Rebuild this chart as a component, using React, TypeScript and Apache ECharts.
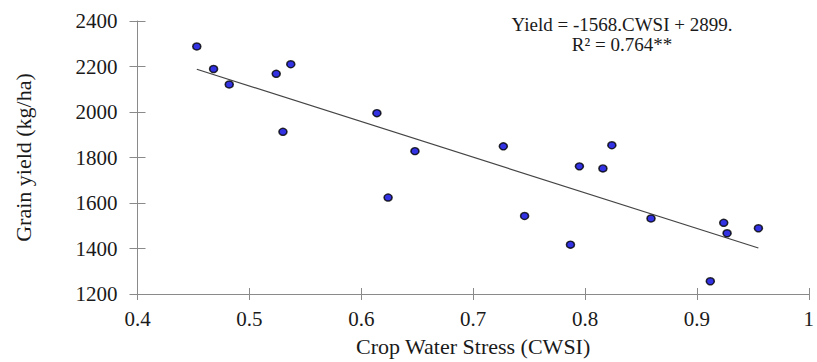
import React, { useEffect, useRef } from "react";
import * as echarts from "echarts";

const cwsi = [0.453, 0.468, 0.482, 0.524, 0.537, 0.530, 0.614, 0.624, 0.648, 0.727, 0.746, 0.787, 0.795, 0.816, 0.824, 0.859, 0.912, 0.924, 0.927, 0.955];
const grainYield = [2288, 2189, 2121, 2168, 2210, 1913, 1995, 1624, 1828, 1849, 1543, 1417, 1761, 1752, 1854, 1532, 1256, 1513, 1467, 1489];
const trendX = [0.453, 0.955];
const trendY = [2188, 1402];
const equationLines = ["Yield = -1568.CWSI + 2899.", "R\u00B2 = 0.764**"];
const xTitle = "Crop Water Stress (CWSI)";
const yTitle = "Grain yield (kg/ha)";

const FONT = "Liberation Serif";
const AXIS = "#8a8a8a";
const TEXT = "#1a1a1a";

export default function App() {
  const ref = useRef<HTMLDivElement>(null);
  useEffect(() => {
    if (!ref.current) return;
    const chart = echarts.init(ref.current, null, { renderer: "svg" });
    const xBase = { type: "value", min: 0.4, max: 1, interval: 0.1, splitLine: { show: false } };
    const yBase = { type: "value", min: 1200, max: 2400, interval: 200, splitLine: { show: false } };
    chart.setOption({
      animation: false,
      backgroundColor: "#ffffff",
      textStyle: { fontFamily: FONT },
      grid: { left: 137.5, right: 4.5, top: 21, bottom: 62.7, containLabel: false },
      xAxis: [
        {
          ...xBase,
          position: "bottom",
          name: xTitle,
          nameLocation: "middle",
          nameGap: 41,
          nameTextStyle: { fontFamily: FONT, fontSize: 22, color: TEXT },
          axisLine: { show: true, lineStyle: { color: AXIS, width: 1 } },
          axisTick: { show: true, inside: false, length: 6, lineStyle: { color: AXIS } },
          axisLabel: {
            fontFamily: FONT,
            fontSize: 21,
            color: TEXT,
            margin: 14,
            formatter: (v: number) => String(Number(v.toFixed(1))),
          },
        },
        {
          ...xBase,
          position: "bottom",
          axisLine: { show: false },
          axisTick: { show: true, inside: true, length: 6, lineStyle: { color: AXIS } },
          axisLabel: { show: false },
        },
      ],
      yAxis: [
        {
          ...yBase,
          position: "left",
          name: yTitle,
          nameLocation: "middle",
          nameGap: 103,
          nameTextStyle: { fontFamily: FONT, fontSize: 22, color: TEXT },
          axisLine: { show: true, lineStyle: { color: AXIS, width: 1 } },
          axisTick: { show: true, inside: false, length: 8, lineStyle: { color: AXIS } },
          axisLabel: {
            fontFamily: FONT,
            fontSize: 21,
            color: TEXT,
            margin: 20,
            formatter: (v: number) => String(Math.round(v)),
          },
        },
        {
          ...yBase,
          position: "left",
          axisLine: { show: false },
          axisTick: { show: true, inside: true, length: 8, lineStyle: { color: AXIS } },
          axisLabel: { show: false },
        },
      ],
      series: [
        {
          type: "line",
          xAxisIndex: 0,
          yAxisIndex: 0,
          data: trendX.map((x, i) => [x, trendY[i]]),
          showSymbol: false,
          symbol: "none",
          lineStyle: { color: "#444444", width: 1.2 },
          silent: true,
          z: 2,
        },
        {
          type: "scatter",
          xAxisIndex: 0,
          yAxisIndex: 0,
          data: cwsi.map((x, i) => [x, grainYield[i]]),
          symbol: "circle",
          symbolSize: [8, 7],
          itemStyle: { color: "#0000dd", borderColor: "#000000", borderWidth: 1.5 },
          z: 3,
        },
      ],
      graphic: equationLines.map((t, i) => ({
        type: "text",
        x: 622,
        y: 24 + i * 20,
        style: {
          text: t,
          fontFamily: FONT,
          fontSize: 19,
          fill: TEXT,
          textAlign: "center",
          textVerticalAlign: "middle",
        },
      })),
    });
    return () => chart.dispose();
  }, []);
  return (
    <div
      ref={ref}
      style={{ position: "absolute", left: 0, top: 0, width: 817, height: 362 }}
    />
  );
}
